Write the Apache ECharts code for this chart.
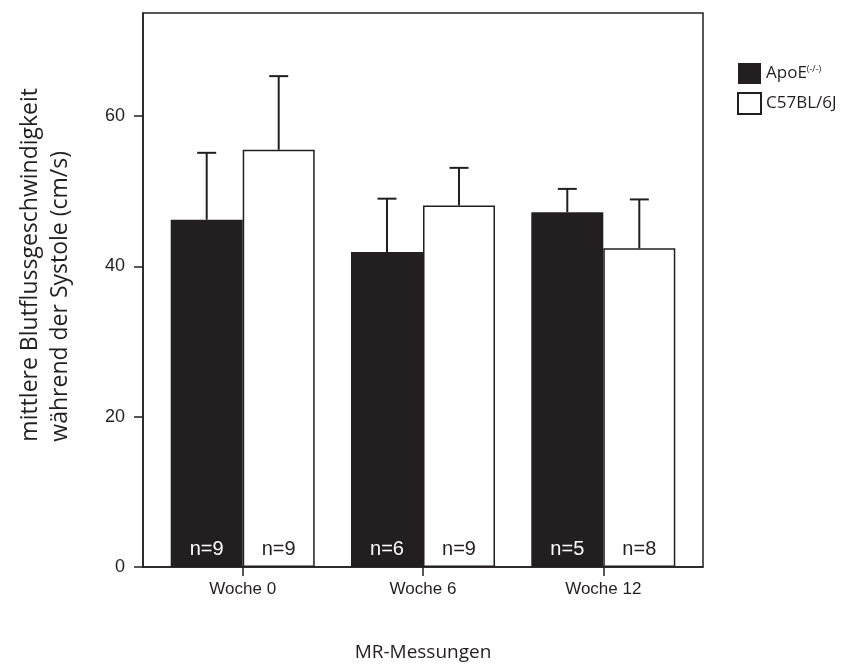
<!DOCTYPE html>
<html>
<head>
<meta charset="utf-8">
<script src="https://cdn.jsdelivr.net/npm/echarts@6/dist/echarts.min.js"></script>
<style>
  html, body { margin: 0; padding: 0; background: #fff; }
  #chart { width: 844px; height: 667px; }
</style>
</head>
<body>
<div id="chart"></div>
<script>
// Messzeitpunkte
var categories = ['Woche 0', 'Woche 6', 'Woche 12'];
var positions = [0, 1, 2];
// Mittelwerte (cm/s)
var apoeMean = [46.2, 41.9, 47.2];
var c57Mean = [55.5, 48.1, 42.4];
// obere Fehlerbalken (Mittelwert + SD)
var apoeUpper = [55.1, 49.0, 50.3];
var c57Upper = [65.3, 53.1, 48.9];
// Anzahl Tiere
var apoeN = [9, 6, 5];
var c57N = [9, 9, 8];

var ink = '#231f20';
var barW = 72;

var chart = echarts.init(document.getElementById('chart'));

function errBars(offset) {
	return function (params, api) {
		var x = api.value(0);
		var lo = api.coord([x, api.value(1)]);
		var hi = api.coord([x, api.value(2)]);
		var cx = lo[0] + offset;
		var style = { stroke: ink, lineWidth: 2 };
		return {
			type: 'group',
			children: [
				{ type: 'line', shape: { x1: cx, y1: lo[1], x2: cx, y2: hi[1] }, style: style },
				{ type: 'line', shape: { x1: cx - 9.5, y1: hi[1], x2: cx + 9.5, y2: hi[1] }, style: style }
			]
		};
	};
}

var option = {
	animation: false,
	backgroundColor: '#fff',
	grid: { left: 143, right: 141, top: 13, bottom: 99, show: true, borderColor: ink, borderWidth: 1.5 },
	legend: {
		orient: 'vertical', left: 737, top: 63, padding: 0, itemWidth: 23, itemHeight: 21, itemGap: 8,
		icon: 'rect', selectedMode: false,
		textStyle: {
			fontFamily: 'Open Sans', fontSize: 17, color: ink,
			rich: { sup: { fontSize: 9, verticalAlign: 'top', padding: [0, 0, 9, 0], fontFamily: 'Open Sans', color: ink } }
		},
		formatter: function (n) { return n === 'ApoE' ? 'ApoE{sup|(-/-)}' : n; },
		data: ['ApoE', 'C57BL/6J']
	},
	xAxis: {
		type: 'value', min: -0.553, max: 2.553,
		splitLine: { show: false },
		axisLine: { onZero: false, lineStyle: { color: ink, width: 1.5 } },
		axisTick: { show: true, length: 9, customValues: positions, lineStyle: { color: ink, width: 1.5 } },
		axisLabel: {
			customValues: positions, margin: 14, color: ink, fontFamily: 'Liberation Sans', fontSize: 17,
			formatter: function (v) { return categories[Math.round(v)]; }
		},
		name: 'MR-Messungen', nameLocation: 'middle', nameGap: 76,
		nameTextStyle: { fontFamily: 'Open Sans', fontSize: 19, color: ink }
	},
	yAxis: {
		type: 'value', min: 0, max: 73.7, interval: 20,
		splitLine: { show: false },
		axisLine: { show: true, onZero: false, lineStyle: { color: ink, width: 1.5 } },
		axisTick: { show: true, length: 9, lineStyle: { color: ink, width: 1.5 } },
		axisLabel: { margin: 18, color: ink, fontFamily: 'Liberation Sans', fontSize: 18, showMaxLabel: false }
	},
	graphic: [{
		type: 'text', left: 15, top: 88, rotation: Math.PI / 2,
		style: {
			text: 'mittlere Blutflussgeschwindigkeit\nwährend der Systole (cm/s)',
			font: '23px "Open Sans"', fill: ink, align: 'center', lineHeight: 30
		}
	}],
	series: [
		{
			name: 'ApoE', type: 'bar', barWidth: barW, barGap: '0%',
			itemStyle: { color: ink },
			label: {
				show: true, position: 'insideBottom', distance: 8, color: '#fff',
				fontFamily: 'Liberation Sans', fontSize: 20,
				formatter: function (p) { return 'n=' + apoeN[p.dataIndex]; }
			},
			data: positions.map(function (x, i) { return [x, apoeMean[i]]; })
		},
		{
			name: 'C57BL/6J', type: 'bar', barWidth: barW, barGap: '0%',
			itemStyle: { color: '#fff', borderColor: ink, borderWidth: 1.5 },
			label: {
				show: true, position: 'insideBottom', distance: 8, color: ink,
				fontFamily: 'Liberation Sans', fontSize: 20,
				formatter: function (p) { return 'n=' + c57N[p.dataIndex]; }
			},
			data: positions.map(function (x, i) { return [x, c57Mean[i]]; })
		},
		{
			type: 'custom', z: 5, renderItem: errBars(-barW / 2),
			data: positions.map(function (x, i) { return [x, apoeMean[i], apoeUpper[i]]; })
		},
		{
			type: 'custom', z: 5, renderItem: errBars(barW / 2),
			data: positions.map(function (x, i) { return [x, c57Mean[i], c57Upper[i]]; })
		}
	]
};
chart.setOption(option);
</script>
</body>
</html>
